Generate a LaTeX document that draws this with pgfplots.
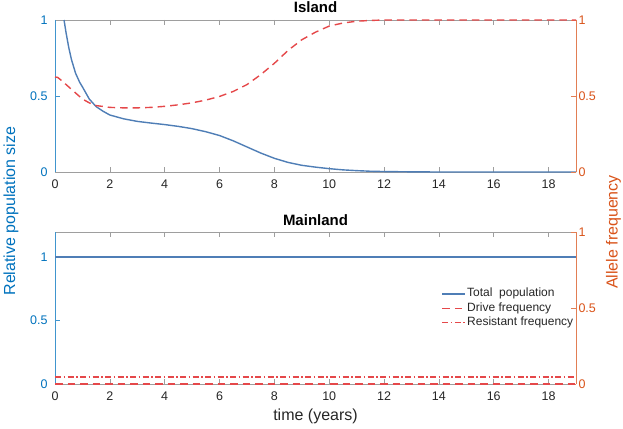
\documentclass[border=0pt]{standalone}
\usepackage{fontspec}
\setmainfont{Liberation Sans}
\usepackage{pgfplots}
\pgfplotsset{compat=1.18}
\definecolor{mblue}{rgb}{0,0.447,0.741}
\definecolor{morange}{rgb}{0.85,0.325,0.098}
\definecolor{lblue}{HTML}{4F7EB6}
\definecolor{lred}{HTML}{E5484A}
\definecolor{axgray}{rgb}{0.15,0.15,0.15}

\pgfplotsset{
 base/.style={scale only axis, width=521pt, height=152pt, xmin=0, xmax=19,
   /pgf/number format/assume math mode=true,
   tick label style={font=\fontsize{12.5}{14}\selectfont},
   major tick length=5pt, tick align=inside, clip=false},
 leftax/.style={base, axis x line*=box, axis y line*=left,
   x axis line style={axgray!45, line width=0.7pt},
   y axis line style={mblue!75, line width=0.7pt},
   xtick={0,2,...,18}, xtick pos=both, xticklabel pos=lower,
   ytick pos=left, yticklabel pos=left,
   yticklabel style={text=mblue, xshift=-4pt},
   xticklabel style={text=axgray, yshift=-4pt},
   ytick style={mblue!75, line width=0.6pt}, xtick style={axgray!45, line width=0.6pt}},
 rightax/.style={base, axis x line=none, axis y line*=right, ymin=0, ymax=1,
   ytick={0,0.5,1}, ytick pos=right, yticklabel pos=right,
   y axis line style={morange!75, line width=0.7pt},
   yticklabel style={text=morange, xshift=-1pt},
   ytick style={morange!75, line width=0.6pt}},
 popline/.style={color=lblue, line width=1.4pt},
 driveline/.style={color=lred, line width=1.4pt, dash pattern=on 7.5pt off 5pt},
 resline/.style={color=lred, line width=1.4pt, dash pattern=on 6pt off 2.5pt on 1.5pt off 2.5pt},
}

\begin{document}
\begin{tikzpicture}
\useasboundingbox (-55pt,-256pt) rectangle (568pt,172pt);

% ---------------- Island ----------------
\begin{axis}[leftax, at={(0pt,0pt)}, anchor=south west, ymin=0, ymax=1, ytick={0,0.5,1}]
\addplot[popline] coordinates {
(0.33,1.0) (0.4,0.92) (0.5,0.82) (0.6,0.74) (0.75,0.65) (0.9,0.59) (1,0.56) (1.25,0.48)
(1.5,0.43) (1.75,0.40) (2,0.375) (2.5,0.35) (3,0.333) (3.5,0.322) (4,0.312)
(4.5,0.30) (5,0.285) (5.5,0.265) (6,0.24) (6.5,0.205) (7,0.165) (7.5,0.125)
(8,0.09) (8.5,0.063) (9,0.044) (9.5,0.032) (10,0.022) (10.5,0.014) (11,0.009)
(11.5,0.005) (12,0.003) (13,0.001) (14,0) (19,0)};
\end{axis}
\begin{axis}[rightax, at={(0pt,0pt)}, anchor=south west]
\addplot[driveline] coordinates {
(0,0.625) (0.1,0.622) (0.25,0.60) (0.5,0.56) (0.75,0.52) (1,0.48) (1.25,0.455)
(1.5,0.437) (2,0.425) (2.5,0.422) (3,0.422) (3.5,0.425) (4,0.432) (4.5,0.442)
(5,0.455) (5.5,0.473) (6,0.497) (6.5,0.53) (7,0.575) (7.5,0.64) (8,0.715)
(8.5,0.80) (9,0.87) (9.5,0.92) (10,0.96) (10.5,0.98) (11,0.992) (11.5,0.997)
(12,1.0) (19,1.0)};
\end{axis}

% ---------------- Mainland ----------------
\begin{axis}[leftax, at={(0pt,-212pt)}, anchor=south west, ymin=0, ymax=1.2, ytick={0,0.5,1}]
\addplot[color=lblue, line width=2pt] coordinates {(0,1) (5,1) (10,1) (15,1) (19,1)};
\end{axis}
\begin{axis}[rightax, at={(0pt,-212pt)}, anchor=south west,
  legend style={at={(0.742,0.64)}, anchor=north west, draw=none, fill=none,
    inner sep=0pt, font=\fontsize{12}{14}\selectfont,
    nodes={inner sep=1pt, text height=9pt, text depth=3.3pt, text=axgray}},
  legend cell align=left,
  legend image code/.code={\draw[#1] (0pt,0pt) -- (23pt,0pt);}]
\addlegendimage{popline}
\addlegendentry{Total~ population}
\addplot[driveline] coordinates {(0,0) (19,0)};
\addlegendentry{Drive frequency}
\addplot[resline] coordinates {(0,0.046) (19,0.046)};
\addlegendentry{Resistant frequency}
\end{axis}

% titles and labels
\node[anchor=base, font=\fontsize{15}{18}\selectfont\bfseries, text=black] at (260.5pt,159pt) {Island};
\node[anchor=base, font=\fontsize{15}{18}\selectfont\bfseries, text=black] at (260.5pt,-53pt) {Mainland};
\node[anchor=base, font=\fontsize{16}{18}\selectfont, text=axgray] at (260.5pt,-248pt) {time (years)};
\node[rotate=90, font=\fontsize{16}{18}\selectfont, text=mblue] at (-44pt,-39pt) {Relative population size};
\node[rotate=90, font=\fontsize{16}{18}\selectfont, text=morange] at (558.5pt,-60pt) {Allele frequency};
\end{tikzpicture}
\end{document}
